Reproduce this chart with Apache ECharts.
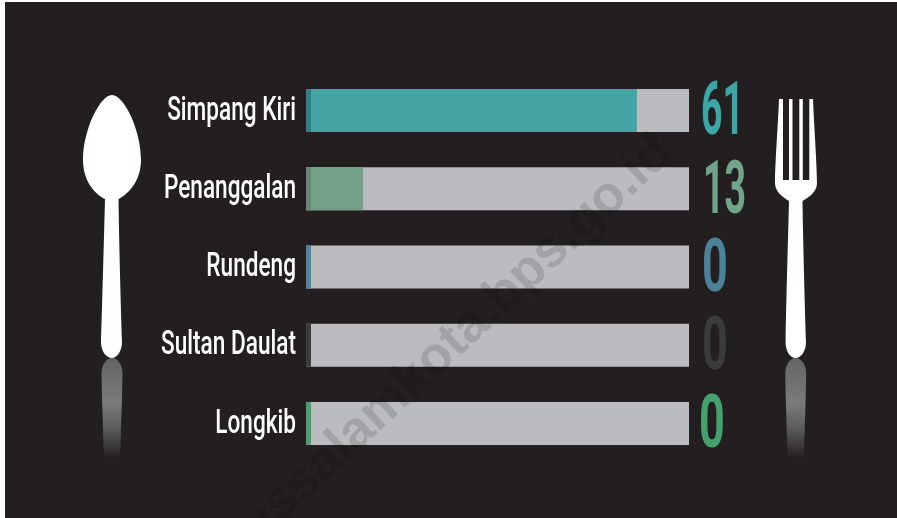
<!DOCTYPE html>
<html><head><meta charset="utf-8">
<style>html,body{margin:0;padding:0;background:#fff}#c{width:897px;height:518px}</style>
<script src="https://cdn.jsdelivr.net/npm/echarts@6/dist/echarts.min.js"></script>
</head><body><div id="c"></div>
<script>
const categories = ['Simpang Kiri','Penanggalan','Rundeng','Sultan Daulat','Longkib'];
const counts = [61,13,0,0,0];
const trackValues = [100,100,100,100,100];
const fillValues = [86.4,14.9,0,0,0];
const stubValues = [1.3,1.3,1.3,1.3,1.3];
const fillColors = ['#45a5a4','#74a088','#bbbcc0','#bbbcc0','#bbbcc0'];
const stubColors = ['#2f8189','#6b8576','#4d87a0','#3c3c3e','#47a06e'];
const countColors = ['#3ba6a6','#70a58a','#4a8299','#3a3b3d','#45a26f'];
const countOffsets = [12,14,13,13,10];
const countSqueeze = [.5,.5,.6,.6,.6];
const BG = '#231f20';

const spoon = 'M112 95 C124 95 141 130 141 160 C141 182 127 195 118.5 199 C119 240 121 310 122 342 C122 351 117 358 112 358 C106 358 101 351 101 342 C102 310 104 240 105 199 C96 195 83 182 83 160 C83 130 100 95 112 95 Z';
const fork = 'M779 99 L783 99 L783 180 L789 180 L789 99 L792.5 99 L792.5 180 L799.3 180 L799.3 99 L802.8 99 L802.8 180 L809.3 180 L809.3 99 L813 99 C814 125 817 165 817 183 C817 192 809 197 802.5 201 C803 240 805 310 806 342 C806 351 801 358 795.7 358 C790 358 785.6 351 785.6 342 C786 310 788 240 789 201 C783 197 775 192 775 183 C775 165 778 125 779 99 Z';
const mirror = (cx) => `M${cx} 358 C${cx+6} 358 ${cx+10.5} 365 ${cx+10.5} 374 C${cx+10} 400 ${cx+9} 430 ${cx+8} 458 L${cx-8} 458 C${cx-9} 430 ${cx-10} 400 ${cx-10.5} 374 C${cx-10.5} 365 ${cx-6} 358 ${cx} 358 Z`;
const fade = {type:'linear',x:0,y:0,x2:0,y2:1,colorStops:[
  {offset:0,color:'#656465'},{offset:.45,color:'#7b7b7b'},{offset:.7,color:'#5c5c5d'},{offset:1,color:BG}]};
const decorPaths = [[spoon,'#ffffff'],[fork,'#ffffff'],[mirror(112),fade],[mirror(795.7),fade]];

const chart = echarts.init(document.getElementById('c'), null, {renderer:'canvas'});
chart.setOption({
  animation:false,
  backgroundColor:'#ffffff',
  grid:{left:306,top:71.5,width:383,height:391,containLabel:false},
  xAxis:{type:'value',min:0,max:100,show:false},
  yAxis:{type:'category',inverse:true,data:categories,
    axisLine:{show:false},axisTick:{show:false},splitLine:{show:false},axisLabel:{show:false}},
  series:[
    {name:'decor',type:'custom',coordinateSystem:'none',silent:true,clip:false,data:[[0]],
      renderItem:()=>({type:'group',children:decorPaths.map(([d,f])=>({type:'path',shape:{pathData:d},style:{fill:f}}))})},
    {name:'track',type:'bar',data:trackValues,barWidth:43,barGap:'-100%',itemStyle:{color:'#bbbcc0'},silent:true},
    {name:'fill',type:'bar',data:fillValues.map((v,i)=>({value:v,itemStyle:{color:fillColors[i]}})),barWidth:43,barGap:'-100%',silent:true},
    {name:'stub',type:'bar',data:stubValues.map((v,i)=>({value:v,itemStyle:{color:stubColors[i]}})),barWidth:43,barGap:'-100%',silent:true},
    {name:'label',type:'custom',silent:true,clip:false,
      data:categories.map(c=>[0,c]),
      encode:{x:0,y:1},
      renderItem:(p,api)=>{
        const pt = api.coord([0,api.value(1)]);
        return {type:'text',x:pt[0]-10,y:pt[1]+1,scaleX:.685,
          style:{text:categories[p.dataIndex],fill:'#ffffff',
            font:'500 33px Roboto',textAlign:'right',textVerticalAlign:'middle'}};
      }},
    {name:'count',type:'custom',silent:true,clip:false,
      data:categories.map((c,i)=>[100,c,counts[i]]),
      encode:{x:0,y:1},
      renderItem:(p,api)=>{
        const pt = api.coord([api.value(0),api.value(1)]);
        return {type:'text',x:pt[0]+countOffsets[p.dataIndex],y:pt[1]+5,scaleX:countSqueeze[p.dataIndex],
          style:{text:String(api.value(2)),fill:countColors[p.dataIndex],
            font:'bold 75px Roboto',textAlign:'left',textVerticalAlign:'middle'}};
      }}
  ],
  graphic:{elements:[
    {type:'rect',silent:true,z:-10,shape:{x:5,y:2,width:892,height:516},style:{fill:BG}},
    {type:'text',silent:true,z:50,x:665,y:145,rotation:Math.PI*43/180,
      style:{text:'subulussalamkota.bps.go.id',font:'bold 53px "Liberation Sans"',fill:'rgba(0,0,0,0.13)',textAlign:'right',textVerticalAlign:'middle'}}
  ]}
});
</script></body></html>
